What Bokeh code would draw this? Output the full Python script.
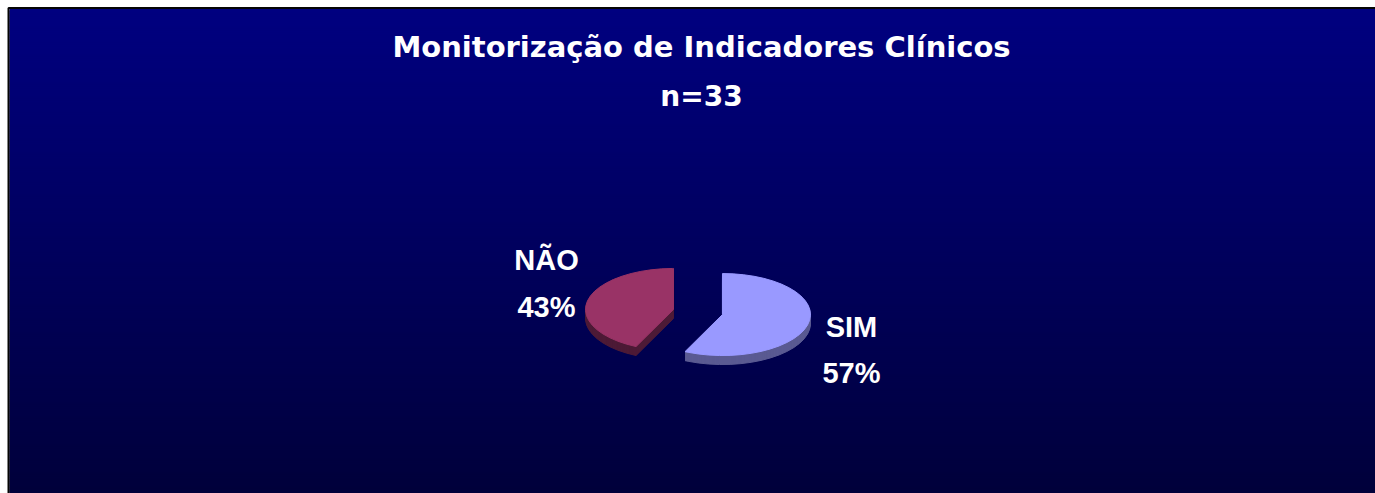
import numpy as np
from bokeh.plotting import figure
from bokeh.models import Range1d
from bokeh.core.properties import value
from bokeh.embed import file_html
from bokeh.resources import INLINE

# ---- data -------------------------------------------------------------
title_lines = ["Monitorização de Indicadores Clínicos", "n=33"]
categories = ["SIM", "NÃO"]
shares = [57, 43]          # percent
top_colors = ["#9999FF", "#993366"]
side_colors = ["#5A5A92", "#4D1A36"]

# ---- canvas -----------------------------------------------------------
W, H = 1375, 493
p = figure(width=W, height=H, x_range=Range1d(0, W), y_range=Range1d(H, 0),
           output_backend="svg", toolbar_location=None, min_border=0)
p.axis.visible = False
p.grid.visible = False
p.outline_line_color = None
p.background_fill_color = "white"
p.border_fill_color = "white"

# vertical navy gradient panel, built from pixel-aligned overlapping bands
y_top, y_bot = 8, H + 2
band_tops = np.arange(y_top, y_bot, 2)
top_rgb = np.array([0, 0, 128])
bot_rgb = np.array([0, 0, 58])
cols = []
for yt in band_tops:
    f = (yt - y_top) / (y_bot - y_top)
    r, g, b = (top_rgb + (bot_rgb - top_rgb) * f).round().astype(int)
    cols.append(f"#{r:02x}{g:02x}{b:02x}")
p.quad(left=9, right=W + 5, top=band_tops, bottom=band_tops + 4,
       fill_color=cols, line_color=None)
p.quad(left=8, right=W + 10, top=7.5, bottom=H + 10,
       fill_color=None, line_color="#050505", line_width=2)

# ---- tilted, exploded pie ----------------------------------------------
cx0, cy0 = 697.5, 311.5
rx, ry, depth = 88, 41, 9
explode = 0.285
step = 7.0

def wedge(a0, a1, cx, cy):
    t = np.deg2rad(np.append(np.arange(a0, a1, step), a1))
    xs = np.concatenate([[cx], cx + rx * np.sin(t)])
    ys_ = np.concatenate([[cy], cy - ry * np.cos(t)])
    return xs, ys_

fracs = np.array(shares) / sum(shares)
starts = np.concatenate([[0], np.cumsum(fracs)[:-1]]) * 360
ends = np.cumsum(fracs) * 360

for a0, a1, ct, cs in zip(starts, ends, top_colors, side_colors):
    mid = np.deg2rad((a0 + a1) / 2)
    cx = cx0 + explode * rx * np.sin(mid)
    cy = cy0 - explode * ry * np.cos(mid)
    xs, yv = wedge(a0, a1, cx, cy)
    side_x = [list(xs)] * depth
    side_y = [list(yv + d) for d in range(depth, 0, -1)]
    p.patches(side_x, side_y, fill_color=cs, line_color=cs, line_width=1)
    p.patch(xs, yv, fill_color=ct, line_color=ct, line_width=1)

# ---- texts ------------------------------------------------------------
p.text(x=[701, 701], y=[46, 96], text=title_lines,
       text_font=value("DejaVu Sans"), text_font_style="bold",
       text_font_size=["29px", "28px"], text_color="white",
       text_align="center", text_baseline="alphabetic")

label_x = [851, 546]
name_y = [326, 259]
pct_y = [372, 306]
p.text(x=label_x, y=name_y, text=categories,
       text_font=value("Liberation Sans"), text_font_style="bold",
       text_font_size="29px", text_color="white",
       text_align="center", text_baseline="alphabetic")
p.text(x=label_x, y=pct_y, text=[f"{s}%" for s in shares],
       text_font=value("Liberation Sans"), text_font_style="bold",
       text_font_size="29px", text_color="white",
       text_align="center", text_baseline="alphabetic")

open("out.html", "w").write(file_html(p, INLINE))
